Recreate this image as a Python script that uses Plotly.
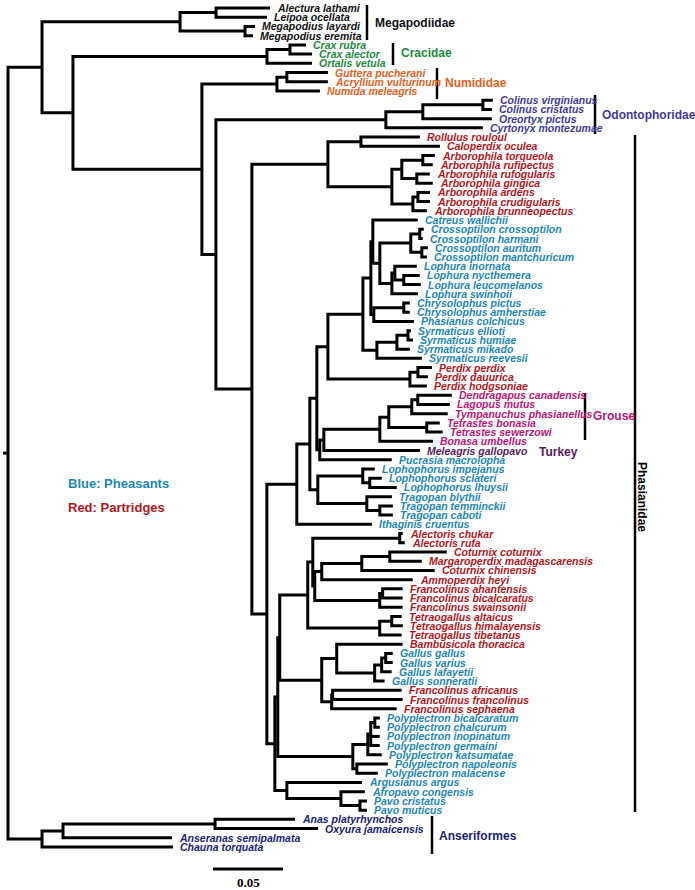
import plotly.graph_objects as go

# ---------------- DATA: tree (Newick clades, branch lengths in subs/site) ----------------
MEG = "((Alectura_lathami:0.0386,Leipoa_ocellata:0.0364):0.0257,(Megapodius_layardi:0.0071,Megapodius_eremita:0.0057):0.0464)"
CRAC = "((Crax_rubra:0.0114,Crax_alector:0.0157):0.0164,Ortalis_vetula:0.0321)"
NUM = "((Guttera_pucherani:0.0293,Acryllium_vulturinum:0.0293):0.0071,Numida_meleagris:0.0307)"
ODO = "(((Colinus_virginianus:0.0071,Colinus_cristatus:0.0064):0.0429,Oreortyx_pictus:0.0493):0.0264,Cyrtonyx_montezumae:0.0693)"
ANS = "(((Anas_platyrhynchos:0.0571,Oxyura_jamaicensis:0.0736):0.1086,Anseranas_semipalmata:0.0779):0.0150,Chauna_torquata:0.0936)"

P1 = ("((Rollulus_rouloul:0.0421,Caloperdix_oculea:0.0564):0.0236,"
      "(((Arborophila_torqueola:0.0086,Arborophila_rufipectus:0.0071):0.0150,"
      "(Arborophila_rufogularis:0.0093,Arborophila_gingica:0.0114):0.0107):0.0071,"
      "((Arborophila_ardens:0.0086,Arborophila_crudigularis:0.0086):0.0036,Arborophila_brunneopectus:0.0100):0.0150):0.0457)")
CROSS = "((Crossoptilon_crossoptilon:0.0029,Crossoptilon_harmani:0.0021):0.0064,(Crossoptilon_auritum:0.0043,Crossoptilon_mantchuricum:0.0036):0.0079)"
LOPH = "((Lophura_inornata:0.0157,(Lophura_nycthemera:0.0114,Lophura_leucomelanos:0.0121):0.0064):0.0021,Lophura_swinhoii:0.0186)"
CHRY = "((Chrysolophus_pictus:0.0043,Chrysolophus_amherstiae:0.0043):0.0214,Phasianus_colchicus:0.0286)"
SYR = "(((Syrmaticus_ellioti:0.0021,Syrmaticus_humiae:0.0036):0.0079,Syrmaticus_mikado:0.0093):0.0143,Syrmaticus_reevesii:0.0321)"
PERD = "((Perdix_perdix:0.0100,Perdix_dauurica:0.0071):0.0057,Perdix_hodgsoniae:0.0121)"
GROUSE = ("((((Dendragapus_canadensis:0.0243,Lagopus_mutus:0.0229):0.0043,Tympanuchus_phasianellus:0.0257):0.0164,"
          "(Tetrastes_bonasia:0.0093,Tetrastes_sewerzowi:0.0114):0.0271):0.0064,Bonasa_umbellus:0.0379)")
LT = ("((Lophophorus_impejanus:0.0086,(Lophophorus_sclateri:0.0086,Lophophorus_lhuysii:0.0193):0.0050):0.0321,"
      "(Tragopan_blythii:0.0179,(Tragopan_temminckii:0.0093,Tragopan_caboti:0.0093):0.0093):0.0350)")
ALEC = "(Alectoris_chukar:0.0021,Alectoris_rufa:0.0036)"
COT = "(((Coturnix_coturnix:0.0407,Margaroperdix_madagascarensis:0.0229):0.0200,Coturnix_chinensis:0.0521):0.0286,Ammoperdix_heyi:0.0650)"
FR = "((Francolinus_ahantensis:0.0143,Francolinus_bicalcaratus:0.0143):0.0021,Francolinus_swainsonii:0.0164)"
TETR = "((Tetraogallus_altaicus:0.0071,Tetraogallus_himalayensis:0.0079):0.0086,Tetraogallus_tibetanus:0.0157)"
GAL = "(((Gallus_gallus:0.0050,Gallus_varius:0.0050):0.0029,Gallus_lafayetii:0.0071):0.0050,Gallus_sonneratii:0.0071)"
AF = "((Francolinus_africanus:0.0493,Francolinus_francolinus:0.0500):0.0007,Francolinus_sephaena:0.0464)"
POLY = ("((((Polyplectron_bicalcaratum:0.0036,Polyplectron_chalcurum:0.0036):0.0029,Polyplectron_inopinatum:0.0064,"
        "Polyplectron_germaini:0.0064):0.0021,Polyplectron_katsumatae:0.0100):0.0107,"
        "(Polyplectron_napoleonis:0.0221,Polyplectron_malacense:0.0150):0.0029)")
AP = "(Argusianus_argus:0.0536,(Afropavo_congensis:0.0171,(Pavo_cristatus:0.0050,Pavo_muticus:0.0050):0.0136):0.0386)"

E = f"((Catreus_wallichii:0.0321,({CROSS}:0.0221,{LOPH}:0.0086):0.0050):0.0014,{CHRY}:0.0021)"
Q5 = f"({E}:0.0057,{SYR}:0.0100)"
Q4 = f"({Q5}:0.0250,{PERD}:0.0586)"
Q6 = f"(({GROUSE}:0.0400,Meleagris_gallopavo:0.0686):0.0029,Pucrasia_macrolopha:0.0514)"
Q3 = f"({Q4}:0.0079,{Q6}:0.0021)"
Q2 = f"({Q3}:0.0050,{LT}:0.0057)"
Q1 = f"({Q2}:0.0093,Ithaginis_cruentus:0.0536)"
P7 = f"({ALEC}:0.0621,({COT}:0.0050,{FR}:0.0464):0.0014)"
P6 = f"({P7}:0.0036,{TETR}:0.0514)"
P9 = f"((Bambusicola_thoracica:0.0471,{GAL}:0.0271):0.0107,{AF}:0.0071)"
P5 = f"({P6}:0.0200,{P9}:0.0300)"
P4 = f"({P5}:0.0014,{POLY}:0.0536)"
P3 = f"({P4}:0.0021,{AP}:0.0086)"
P2 = f"({Q1}:0.0214,{P3}:0.0057)"
PHAS = f"({P1}:0.0543,{P2}:0.0107)"
N2 = f"({ODO}:0.1214,{PHAS}:0.0257)"
N1 = f"({NUM}:0.0536,{N2}:0.0100)"
R1 = f"({CRAC}:0.1386,{N1}:0.0921)"
GALLI = f"({MEG}:0.0986,{R1}:0.0221)"
TREE = f"({GALLI}:0.0243,{ANS}:0.0243);"

SCALE_BAR = 0.05

# label colour groups
megapod_genera = ["Alectura", "Leipoa", "Megapodius"]
cracid_genera = ["Crax", "Ortalis"]
numidid_genera = ["Guttera", "Acryllium", "Numida"]
odonto_genera = ["Colinus", "Oreortyx", "Cyrtonyx"]
partridge_genera = ["Rollulus", "Caloperdix", "Arborophila", "Perdix", "Alectoris", "Coturnix", "Margaroperdix",
                    "Ammoperdix", "Francolinus", "Tetraogallus", "Bambusicola"]
pheasant_genera = ["Catreus", "Crossoptilon", "Lophura", "Chrysolophus", "Phasianus", "Syrmaticus", "Pucrasia",
                   "Lophophorus", "Tragopan", "Ithaginis", "Gallus", "Polyplectron", "Argusianus", "Afropavo", "Pavo"]
grouse_genera = ["Dendragapus", "Lagopus", "Tympanuchus", "Tetrastes", "Bonasa"]
turkey_genera = ["Meleagris"]
anser_genera = ["Anas", "Oxyura", "Anseranas", "Chauna"]

COLORS = {"megapod": "#111111", "cracid": "#1e8a3c", "numidid": "#e55e1c", "odonto": "#3f3a98",
          "partridge": "#b3161b", "pheasant": "#1d87b2", "grouse": "#bc1572", "turkey": "#5a1a5c",
          "anser": "#1b2270"}
GROUPS = [("megapod", megapod_genera), ("cracid", cracid_genera), ("numidid", numidid_genera),
          ("odonto", odonto_genera), ("partridge", partridge_genera), ("pheasant", pheasant_genera),
          ("grouse", grouse_genera), ("turkey", turkey_genera), ("anser", anser_genera)]


def color_of(name):
    g = name.split("_")[0]
    for key, genera in GROUPS:
        if g in genera:
            return COLORS[key]
    return "black"


# ---------------- Newick parsing ----------------
def parse(s):
    pos = [0]

    def node():
        n = {"children": [], "name": "", "len": 0.0}
        if s[pos[0]] == "(":
            pos[0] += 1
            while True:
                n["children"].append(node())
                c = s[pos[0]]
                pos[0] += 1
                if c == ")":
                    break
        start = pos[0]
        while s[pos[0]] not in ",():;":
            pos[0] += 1
        n["name"] = s[start:pos[0]]
        if s[pos[0]] == ":":
            pos[0] += 1
            start = pos[0]
            while s[pos[0]] not in ",();":
                pos[0] += 1
            n["len"] = float(s[start:pos[0]])
        return n

    return node()


root = parse(TREE)
leaves = []


def layout(n, x):
    n["x"] = x + n["len"]
    if not n["children"]:
        n["y"] = len(leaves)
        leaves.append(n)
    else:
        for c in n["children"]:
            layout(c, n["x"])
        n["y"] = (n["children"][0]["y"] + n["children"][-1]["y"]) / 2.0


root["len"] = 0.0
layout(root, 0.0)

# ---------------- pixel <-> data helpers (figure is 695x890, no margins) ----------------
W, H = 695, 890
PX_X0, PX_PER_UNIT = 8.0, 1400.0       # root at 8px, 0.05 -> 70px
PX_Y0, PX_PER_LEAF = 8.0, 9.22
xr = [(0 - PX_X0) / PX_PER_UNIT, (W - PX_X0) / PX_PER_UNIT]
yr = [(H - PX_Y0) / PX_PER_LEAF, (0 - PX_Y0) / PX_PER_LEAF]

xs, ys = [], []


def segs(n):
    ch = n["children"]
    if not ch:
        return
    f, l = ch[0], ch[-1]
    xs.extend([f["x"], n["x"], n["x"], l["x"], None])
    ys.extend([f["y"], f["y"], l["y"], l["y"], None])
    for c in ch[1:-1]:
        xs.extend([n["x"], c["x"], None])
        ys.extend([c["y"], c["y"], None])
    for c in ch:
        segs(c)


segs(root)
xs.extend([root["x"] - 5 / PX_PER_UNIT, root["x"], None])
ys.extend([root["y"], root["y"], None])

fig = go.Figure()
fig.add_trace(go.Scatter(x=xs, y=ys, mode="lines", line=dict(color="black", width=3),
                         hoverinfo="skip", showlegend=False))

SP_FONT = "Liberation Sans Narrow, Arial Narrow, Liberation Sans, Arial"
annotations = []
for lf in leaves:
    annotations.append(dict(x=lf["x"], y=lf["y"], xref="x", yref="y", text=lf["name"].replace("_", " "),
                            showarrow=False, xanchor="left", yanchor="middle", xshift=5,
                            font=dict(family=SP_FONT, size=10.5, color=color_of(lf["name"]),
                                      weight="bold", style="italic")))

FAM_FONT = "Liberation Sans, Arial"


def px(xp):
    return xp / W


def py(yp):
    return 1 - yp / H


families = [
    ("Megapodiidae", COLORS["megapod"], 367, 5, 40, 373, 23),
    ("Cracidae", COLORS["cracid"], 393, 43, 65, 399, 53),
    ("Numididae", COLORS["numidid"], 437, 68, 99, 443, 83),
    ("Odontophoridae", COLORS["odonto"], 595, 95, 134, 600, 115),
    ("Grouse", COLORS["grouse"], 585, 393, 440, 591, 416),
    ("Anseriformes", COLORS["anser"], 432, 816, 854, 437, 836),
]
shapes = []
for name, col, bx, by0, by1, tx, ty in families:
    shapes.append(dict(type="line", xref="paper", yref="paper", x0=px(bx), x1=px(bx), y0=py(by0), y1=py(by1),
                       line=dict(color="black", width=2.5)))
    annotations.append(dict(x=px(tx), y=py(ty), xref="paper", yref="paper", text=name, showarrow=False,
                            xanchor="left", yanchor="middle",
                            font=dict(family=FAM_FONT, size=12, color=col, weight="bold")))

# Phasianidae bar + rotated label
shapes.append(dict(type="line", xref="paper", yref="paper", x0=px(635), x1=px(635), y0=py(135), y1=py(812),
                   line=dict(color="black", width=2.5)))
annotations.append(dict(x=px(642), y=py(497), xref="paper", yref="paper", text="Phasianidae", showarrow=False,
                        textangle=90, xanchor="center", yanchor="middle",
                        font=dict(family=FAM_FONT, size=12, color="black", weight="bold")))
annotations.append(dict(x=px(537), y=py(452), xref="paper", yref="paper", text="Turkey", showarrow=False,
                        xanchor="left", yanchor="middle",
                        font=dict(family=FAM_FONT, size=12, color=COLORS["turkey"], weight="bold")))
annotations.append(dict(x=px(66), y=py(484), xref="paper", yref="paper", text="Blue: Pheasants", showarrow=False,
                        xanchor="left", yanchor="middle",
                        font=dict(family=FAM_FONT, size=13, color=COLORS["pheasant"], weight="bold")))
annotations.append(dict(x=px(66), y=py(507), xref="paper", yref="paper", text="Red: Partridges", showarrow=False,
                        xanchor="left", yanchor="middle",
                        font=dict(family=FAM_FONT, size=13, color=COLORS["partridge"], weight="bold")))

# scale bar
sb_x0 = (213 - PX_X0) / PX_PER_UNIT
sb_y = (869 - PX_Y0) / PX_PER_LEAF
fig.add_trace(go.Scatter(x=[sb_x0, sb_x0 + SCALE_BAR], y=[sb_y, sb_y], mode="lines",
                         line=dict(color="black", width=3), hoverinfo="skip", showlegend=False))
annotations.append(dict(x=sb_x0 + SCALE_BAR / 2, y=(882 - PX_Y0) / PX_PER_LEAF, xref="x", yref="y",
                        text=f"{SCALE_BAR:.2f}", showarrow=False, xanchor="center", yanchor="middle",
                        font=dict(family="Liberation Serif, Times New Roman", size=13, color="black",
                                  weight="bold")))

fig.update_layout(width=W, height=H, margin=dict(l=0, r=0, t=0, b=0),
                  plot_bgcolor="white", paper_bgcolor="white",
                  xaxis=dict(range=xr, visible=False, fixedrange=True),
                  yaxis=dict(range=yr, visible=False, fixedrange=True),
                  annotations=annotations, shapes=shapes, showlegend=False)
fig.write_html("out.html", config={"displayModeBar": False},
               post_script="document.body.style.margin='0px';document.body.style.overflow='hidden';")
